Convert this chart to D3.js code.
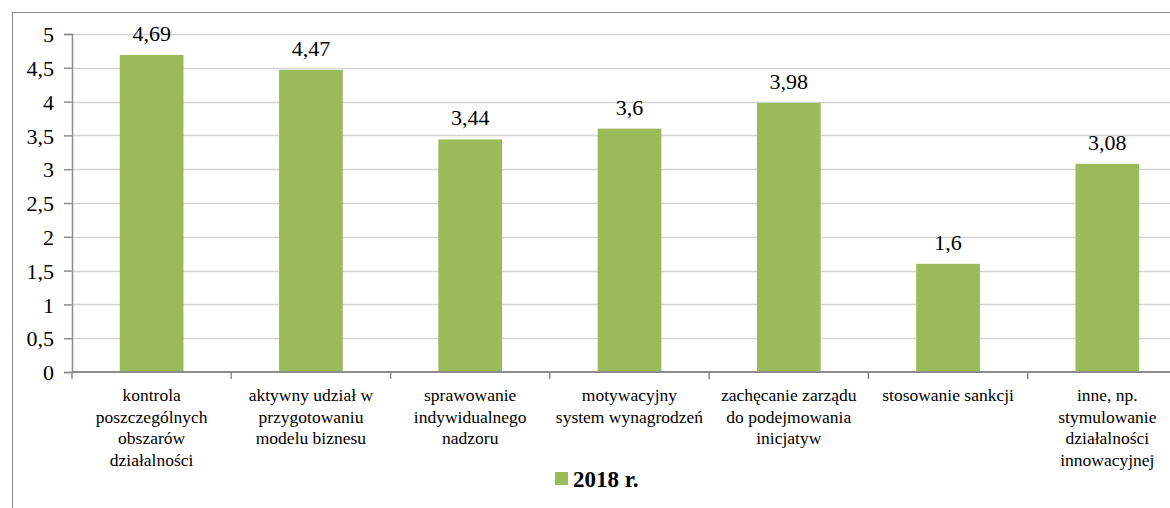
<!DOCTYPE html>
<html>
<head>
<meta charset="utf-8">
<script src="https://cdn.jsdelivr.net/npm/d3@7"></script>
<style>
  body { margin: 0; background: #fff; }
</style>
</head>
<body>
<svg id="chart" width="1170" height="508"></svg>
<script>
const categories = [
    ["kontrola", "poszczególnych", "obszarów", "działalności"],
    ["aktywny udział w", "przygotowaniu", "modelu biznesu"],
    ["sprawowanie", "indywidualnego", "nadzoru"],
    ["motywacyjny", "system wynagrodzeń"],
    ["zachęcanie zarządu", "do podejmowania", "inicjatyw"],
    ["stosowanie sankcji"],
    ["inne, np.", "stymulowanie", "działalności", "innowacyjnej"]
]
const values = [4.69, 4.47, 3.44, 3.6, 3.98, 1.6, 3.08]
const yTicks = [0, 0.5, 1, 1.5, 2, 2.5, 3, 3.5, 4, 4.5, 5]
const seriesName = "2018 r."

const svg = d3.select("#chart")
const fmt = d => String(d).replace(".", ",")
const serif = "Liberation Serif, DejaVu Serif, serif"

const margin = { left: 72, top: 34, bottom: 372 }
const plotRight = 1187

// outer frame (runs off the right and bottom edges)
svg.append("rect")
    .attr("x", 12.5).attr("y", 12.5)
    .attr("width", 1200).attr("height", 600)
    .attr("fill", "none").attr("stroke", "#8c8c8c")

const x = d3.scaleBand()
    .domain(d3.range(categories.length))
    .range([margin.left, plotRight])
    .paddingInner(0.6).paddingOuter(0.3)

const y = d3.scaleLinear().domain([0, 5]).range([margin.bottom, margin.top])

// gridlines
svg.append("g")
    .selectAll("line")
    .data(yTicks.filter(d => d > 0))
    .join("line")
    .attr("x1", margin.left).attr("x2", plotRight)
    .attr("y1", d => Math.round(y(d)) + 0.5).attr("y2", d => Math.round(y(d)) + 0.5)
    .attr("stroke", "#d4d4d4").attr("stroke-width", 1.5)

// bars
svg.append("g")
    .selectAll("rect")
    .data(values)
    .join("rect")
    .attr("x", (d, i) => x(i))
    .attr("width", x.bandwidth())
    .attr("y", d => y(d))
    .attr("height", d => y(0) - y(d))
    .attr("fill", "#9bbb59")

// value labels
svg.append("g")
    .selectAll("text")
    .data(values)
    .join("text")
    .attr("x", (d, i) => x(i) + x.bandwidth() / 2)
    .attr("y", d => y(d) - 14)
    .attr("text-anchor", "middle")
    .attr("font-family", serif)
    .attr("font-size", 22)
    .attr("fill", "#000")
    .text(fmt)

// y axis
const yAxis = d3.axisLeft(y).tickValues(yTicks).tickSize(8).tickPadding(10).tickFormat(fmt)
const gy = svg.append("g")
    .attr("transform", `translate(${margin.left},0)`)
    .call(yAxis)
    .attr("font-family", serif)
gy.select(".domain").attr("stroke", "#8c8c8c").attr("stroke-width", 1.5)
gy.selectAll(".tick line").attr("stroke", "#8c8c8c").attr("stroke-width", 1.5)
gy.selectAll(".tick text")
    .attr("font-size", 22).attr("fill", "#000")
    .attr("dy", "0.35em")

// x axis line with ticks between categories
const bounds = d3.range(categories.length + 1).map(i => margin.left + i * (plotRight - margin.left) / categories.length)
const gx = svg.append("g")
gx.append("line")
    .attr("x1", margin.left).attr("x2", plotRight)
    .attr("y1", y(0)).attr("y2", y(0))
    .attr("stroke", "#8c8c8c").attr("stroke-width", 2)
gx.selectAll(".xt")
    .data(bounds)
    .join("line")
    .attr("class", "xt")
    .attr("x1", d => d).attr("x2", d => d)
    .attr("y1", y(0)).attr("y2", y(0) + 7)
    .attr("stroke", "#8c8c8c").attr("stroke-width", 1.5)

// category labels
const catText = gx.selectAll(".cat")
    .data(categories)
    .join("text")
    .attr("class", "cat")
    .attr("text-anchor", "middle")
    .attr("font-family", serif)
    .attr("font-size", 17.5)
    .attr("fill", "#000")
catText.each(function(lines, i) {
    const t = d3.select(this)
    lines.forEach((line, j) => {
        t.append("tspan")
            .attr("x", x(i) + x.bandwidth() / 2)
            .attr("y", 401 + j * 21.7)
            .text(line)
    })
})

// legend
const legend = svg.append("g")
legend.append("rect")
    .attr("x", 555).attr("y", 472)
    .attr("width", 13).attr("height", 13)
    .attr("fill", "#9bbb59")
legend.append("text")
    .attr("x", 573).attr("y", 487)
    .attr("font-family", serif)
    .attr("font-size", 23).attr("font-weight", "bold")
    .attr("fill", "#000")
    .text(seriesName)
</script>
</body>
</html>
